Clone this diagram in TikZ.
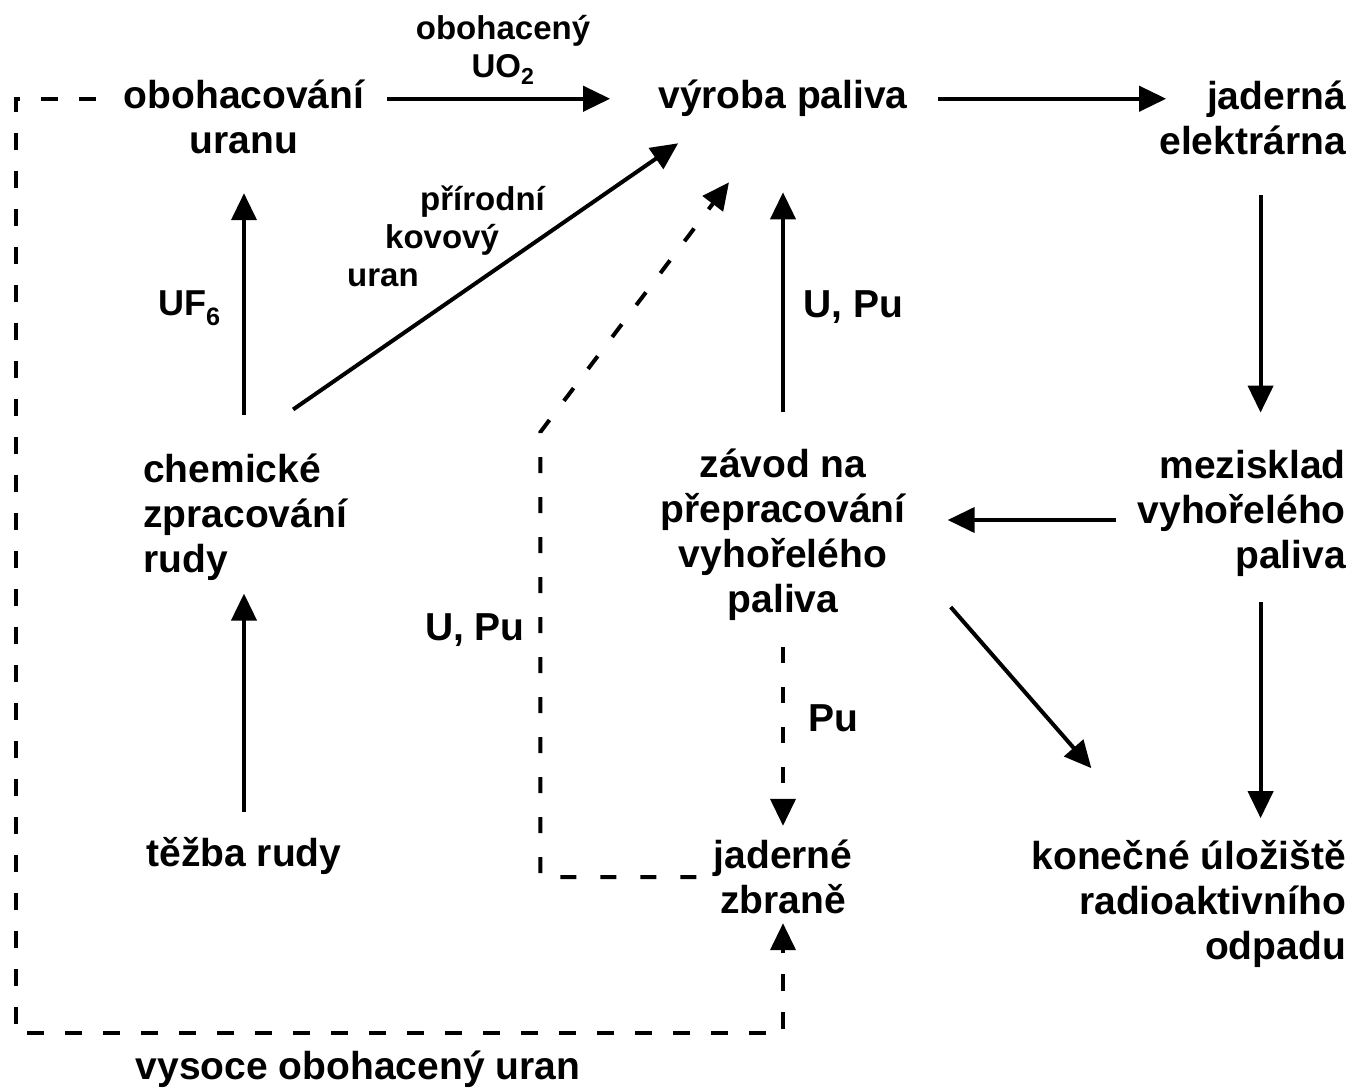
\documentclass[tikz,border=0pt]{standalone}
\usepackage{fontspec}
\setmainfont{Liberation Sans}
\usetikzlibrary{arrows.meta,calc,positioning}

\tikzset{
	box/.style={font=\bfseries\fontsize{39}{45}\selectfont, inner sep=0pt},
	lbl/.style={font=\bfseries\fontsize{33}{38}\selectfont, inner sep=0pt},
	flow/.style={line width=4pt, -{Triangle[length=27pt,width=25pt]}},
	dflow/.style={flow, dash pattern=on 16pt off 24pt},
	hflow/.style={flow, dash pattern=on 17pt off 21pt},
}

\begin{document}
\begin{tikzpicture}[x=1pt,y=1pt]
	\useasboundingbox (0,0) rectangle (1354,-1091);

	\node[box, align=center] (OU) at (244,-117) {obohacování\\uranu};
	\node[box, anchor=base] (VP) at (783,-109) {výroba paliva};
	\node[box, align=right, anchor=east] (JE) at (1346,-118) {jaderná\\elektrárna};
	\node[box, align=left, anchor=west] (CZ) at (143,-517) {chemické\\zpracování\\rudy};
	\node[box, align=center] (ZP) at (783,-535) {závod na\\přepracování\\vyhořelého\\paliva};
	\node[box, align=right, anchor=east] (MV) at (1346,-513) {mezisklad\\vyhořelého\\paliva};
	\node[box, anchor=base] (TR) at (244,-866) {těžba rudy};
	\node[box, align=center] (JZ) at (783,-877) {jaderné\\zbraně};
	\node[box, align=right, anchor=east] (KU) at (1346,-904) {konečné úložiště\\radioaktivního\\odpadu};

	\node[lbl, align=center] (LUO) at (503,-50) {obohacený\\UO\textsubscript{2}};
	\node[lbl, align=left, anchor=west] (LPK) at (347,-236) {\hspace*{73pt}přírodní\\\hspace*{38pt}kovový\\uran};
	\node[lbl, anchor=base west] (LUF) at (158,-316) {\fontsize{36}{40}\selectfont UF\textsubscript{6}};
	\node[box, anchor=base west] (LUP) at (803,-317) {U, Pu};
	\node[box, anchor=base east] (LUPD) at (525,-640) {U, Pu};
	\node[box, anchor=base west] (LPU) at (808,-731) {Pu};
	\node[box, anchor=base] (LHEU) at (358,-1079) {vysoce obohacený uran};

	\draw[flow, shorten <=23pt, shorten >=48pt] (OU.east |- VP.west) -- (VP.west);
	\draw[flow, shorten <=30pt] (VP.east) -- ([xshift=7pt]JE.west |- VP.east);
	\draw[flow, shorten <=40pt, shorten >=37pt] ([xshift=8pt]JE.south) -- ([xshift=8pt]JE.south |- MV.north);
	\draw[flow, shorten <=22pt, shorten >=42pt] ([yshift=-7pt]MV.west) -- ([yshift=-7pt]MV.west -| ZP.east);
	\draw[flow, shorten <=26pt, shorten >=22pt] ([xshift=8pt]JE.south |- MV.south) -- ([xshift=8pt]JE.south |- KU.north);
	\draw[flow] ([xshift=45pt,yshift=14pt]ZP.south east) -- ([xshift=60pt,yshift=72pt]KU.north west);
	\draw[flow, shorten <=37pt, shorten >=75pt] (ZP.north) -- (VP.south);
	\draw[flow, shorten <=38pt, shorten >=39pt] (OU.south |- CZ.north) -- (OU.south);
	\draw[flow, shorten <=25pt, shorten >=13pt] (TR.north) -- (TR.north |- CZ.south);
	\draw[flow] ([xshift=-54pt,yshift=44pt]CZ.north east) -- ([xshift=20pt,yshift=-26pt]VP.south west);

	\draw[dflow, shorten <=17pt] (JZ.west) -- ++(-173pt,0) -- ++(0,445pt) -- ([xshift=-54pt,yshift=-65pt]VP.south);
	\draw[dflow, shorten <=26pt, shorten >=14pt] (ZP.south) -- (JZ.north);
	\draw[hflow, shorten >=9pt] ([xshift=-28pt]OU.west |- VP.west) -- ++(-80pt,0) |- ([yshift=-119pt]JZ.south) -- (JZ.south);
\end{tikzpicture}
\end{document}
